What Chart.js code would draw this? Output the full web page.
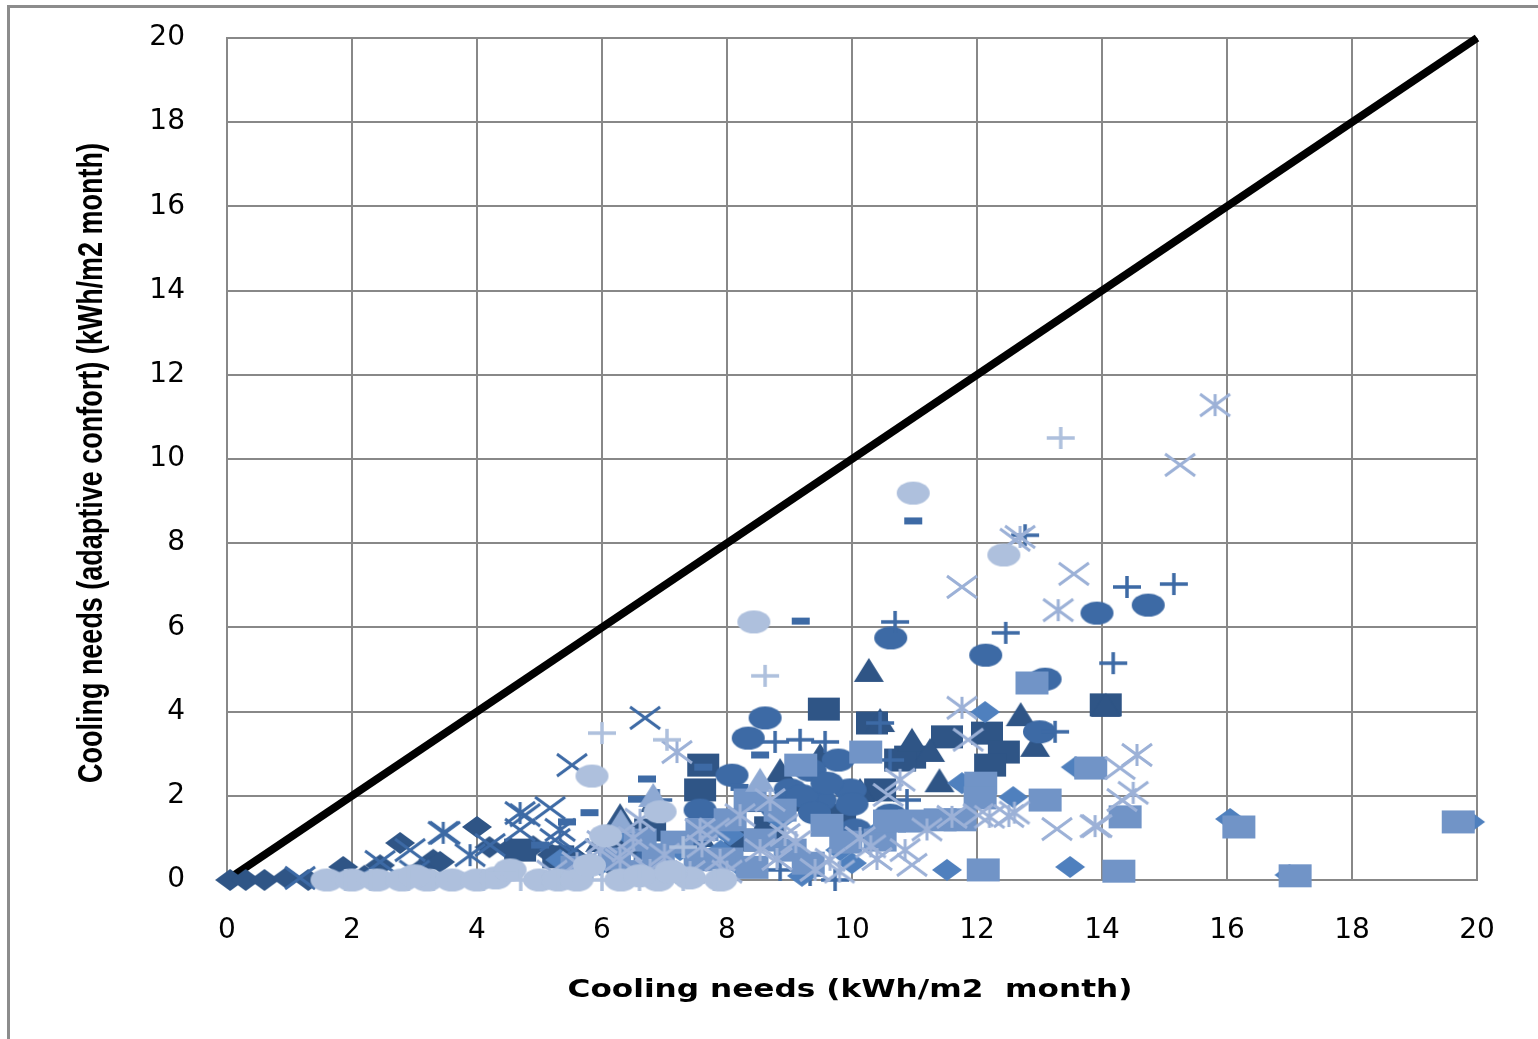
<!DOCTYPE html>
<html>
<head>
<meta charset="utf-8">
<script src="https://cdn.jsdelivr.net/npm/chart.js@4/dist/chart.umd.min.js"></script>
<style>
html,body{margin:0;padding:0;background:#fff;overflow:hidden;}
#wrap{position:relative;width:1538px;height:1039px;}
#frame{position:absolute;left:7px;top:5px;width:1600px;height:1100px;border-left:3px solid #8c8c8c;border-top:3px solid #8c8c8c;}
canvas{position:absolute;left:0;top:0;}
</style>
</head>
<body>
<div id="wrap"><div id="frame"></div><canvas id="c" width="1538" height="1039"></canvas></div>
<script>
// ---- Axis ticks / titles ----
const tickValues = [0,2,4,6,8,10,12,14,16,18,20];
const xTitle = "Cooling needs (kWh/m2  month)";
const yTitle = "Cooling needs (adaptive confort) (kWh/m2 month)";
const diagX = [0, 20];
const diagY = [0, 20];

// ---- Series values (x = cooling needs, y = adaptive comfort cooling needs) ----
const darkDiamondX = [0.05,0.3,0.6,0.95,1.3,1.86,2.45,2.77,3.3,3.41,4.0,4.2,4.53,4.9,5.2,5.6,6.1,6.6,7.2,3.1,2.2];
const darkDiamondY = [0,0,0,0.05,0,0.31,0.35,0.88,0.48,0.43,1.26,0.78,0.76,0.8,0.6,0.5,0.4,0.75,0.9,0.25,0.1];

const darkSquareX = [7.62,9.55,10.32,10.93,11.52,12.16,12.43,14.06,12.21,9.36,9.81,8.21,8.69,7.57,4.69,6.77,10.45,10.77,5.3,6.2];
const darkSquareY = [2.73,4.06,3.73,2.92,3.40,3.49,3.04,4.16,2.73,1.90,1.54,0.95,1.24,2.14,0.71,1.19,2.14,2.85,0.55,0.9];

const darkTriangleX = [10.27,10.45,10.96,11.25,12.7,12.93,14.06,11.4,10.13,9.49,8.85,6.29,6.85,5.97,5.33,8.53,7.57];
const darkTriangleY = [4.99,3.8,3.33,3.09,3.94,3.21,4.16,2.37,2.14,2.97,2.61,1.54,1.9,0.95,0.59,1.9,1.07];

const medXX = [6.69,5.52,4.77,5.17,3.49,2.93,2.45,1.17,4.21,4.69,5.25,5.55,3.0];
const medXY = [3.85,2.73,1.54,1.71,1.12,0.71,0.43,0.05,0.83,1.19,0.95,0.71,0.2];

const medStarX = [3.46,4.69,3.89,5.33];
const medStarY = [1.12,1.59,0.59,1.19];

const medCircleX = [13.92,14.74,10.62,12.14,13.09,8.61,8.34,13.0,8.08,9.78,9.01,9.49,9.97,9.33,10.05,10.61,7.57,7.41,6.77,9.2,9.6,9.4,10.0,8.8,7.9];
const medCircleY = [6.34,6.53,5.75,5.34,4.77,3.85,3.37,3.52,2.49,2.85,2.14,1.9,2.14,2.61,1.19,1.54,1.66,0.83,0.48,2.0,2.3,1.6,1.8,1.7,1.3];

const medPlusX = [12.77,14.4,15.15,10.69,12.46,14.18,10.45,13.25,9.17,9.57,8.77,10.88,10.61,8.85,9.33,9.73,6.9];
const medPlusY = [8.19,6.96,7.03,6.13,5.87,5.15,3.73,3.52,3.33,3.28,3.28,1.9,2.85,0.24,0.12,0.0,1.9];

const medDashX = [10.98,9.18,8.53,6.72,5.44,5.01,6.56,7.62,8.2,5.8];
const medDashY = [8.53,6.15,2.97,2.4,1.38,0.83,1.92,2.68,2.2,1.6];

const lightDiamondX = [12.13,13.58,11.76,12.58,16.05,19.89,17.0,13.49,11.52,10.45,8.05,7.25,5.33,5.97,8.21,9.81,8.85,6.4,7.9,9.2,10.0,6.8];
const lightDiamondY = [3.99,2.68,2.3,1.97,1.45,1.38,0.12,0.31,0.24,1.19,1.07,0.71,0.48,0.36,0.33,0.71,1.43,1.1,0.7,0.1,0.4,0.2];

const lightSquareX = [12.88,9.18,10.22,13.82,12.06,12.05,13.09,14.37,16.19,19.7,17.09,14.27,12.1,6.61,8.37,8.85,8.05,8.53,9.01,10.45,11.41,11.73,7.57,6.2,9.6,6.9,7.2,7.6,8.0,8.4,9.3,9.9,5.6,6.5,10.6,11.0];
const lightSquareY = [4.68,2.73,3.04,2.66,2.3,1.95,1.9,1.5,1.26,1.38,0.1,0.21,0.24,0.95,1.9,1.66,1.43,0.95,0.71,0.95,1.43,1.43,0.48,0.5,1.3,0.6,0.9,1.2,0.5,0.3,0.4,0.9,0.3,0.2,1.4,1.4];

const lightTriangleX = [6.82,8.53,6.3];
const lightTriangleY = [2.02,2.38,1.4];

const lightXX = [15.25,11.76,13.55,12.61,11.86,14.29,14.32,13.92,13.28,12.02,10.96,10.58,8.9,7.8,6.4,5.2];
const lightXY = [9.86,6.96,7.27,8.08,3.33,2.66,1.9,1.28,1.21,1.54,0.36,2.02,1.3,1.2,0.7,0.2];

const lightStarX = [15.81,12.69,13.3,11.76,7.2,14.56,14.5,13.89,12.51,10.77,10.13,10.85,9.65,8.53,7.89,7.41,6.77,6.29,5.97,8.93,9.41,7.57,8.21,8.69,6.61,10.4,11.2,5.6,6.0,6.5,7.0,7.6,8.0,8.8,9.1,9.8,10.3,11.6,12.2,12.6];
const lightStarY = [11.28,8.15,6.41,4.09,3.04,2.97,2.07,1.28,1.52,2.38,1.0,0.71,0.48,0.71,0.48,0.19,0.24,0.48,0.71,1.07,0.24,1.19,1.54,1.9,1.43,0.5,1.2,0.4,0.9,1.0,0.6,0.8,0.2,0.5,0.9,0.2,0.8,1.5,1.5,1.6];

const lightCircleX = [10.98,12.43,8.43,5.84,6.93,6.06,1.6,2.0,2.4,2.8,3.2,3.6,4.0,4.3,4.53,5.0,5.3,5.6,6.3,6.9,7.4,7.9,3.0,5.8,6.6,7.1];
const lightCircleY = [9.19,7.72,6.13,2.47,1.62,1.05,0,0,0,0,0,0,0,0.05,0.24,0,0,0,0,0,0.05,0,0.1,0.35,0.1,0.2];

const lightPlusX = [13.34,8.61,6.0,7.04,7.3,1.9,2.3,2.9,3.3,4.1,4.7,5.3,6.0,6.6,7.3,7.8,4.4];
const lightPlusY = [10.5,4.85,3.49,3.33,0.78,0,0,0,0,0,0,0,0,0,0,0,0.15];

// ---- marker images ----
function marker(type, color, w, h, lw){
  const c = document.createElement('canvas');
  c.width = w + 6; c.height = h + 6;
  const g = c.getContext('2d');
  g.translate(c.width/2, c.height/2);
  g.fillStyle = color; g.strokeStyle = color; g.lineWidth = lw || 3; g.lineCap='butt';
  const hw = w/2, hh = h/2;
  if (type==='diamond'){ g.beginPath(); g.moveTo(0,-hh); g.lineTo(hw,0); g.lineTo(0,hh); g.lineTo(-hw,0); g.closePath(); g.fill(); }
  else if (type==='square'){ g.fillRect(-hw,-hh,w,h); }
  else if (type==='triangle'){ g.beginPath(); g.moveTo(0,-hh); g.lineTo(hw,hh); g.lineTo(-hw,hh); g.closePath(); g.fill(); }
  else if (type==='circle'){ g.beginPath(); g.ellipse(0,0,hw,hh,0,0,Math.PI*2); g.fill(); }
  else if (type==='x'){ g.beginPath(); g.moveTo(-hw,-hh); g.lineTo(hw,hh); g.moveTo(hw,-hh); g.lineTo(-hw,hh); g.stroke(); }
  else if (type==='star'){ g.beginPath(); g.moveTo(-hw,-hh); g.lineTo(hw,hh); g.moveTo(hw,-hh); g.lineTo(-hw,hh); g.moveTo(0,-hh); g.lineTo(0,hh); g.stroke(); }
  else if (type==='plus'){ g.beginPath(); g.moveTo(-hw,0); g.lineTo(hw,0); g.moveTo(0,-hh); g.lineTo(0,hh); g.stroke(); }
  else if (type==='dash'){ g.fillRect(-hw,-hh,w,h); }
  return c;
}
const DARK='#2F5586', MED='#3D6AA5', LDIA='#4F80BE', LSQ='#7194C7', LX='#9CB1D7', LC='#AEC0DD', LTRI='#8EA9D3';

const seriesDefs = [
  [darkDiamondX, darkDiamondY, marker('diamond',DARK,30,22)],
  [darkSquareX, darkSquareY, marker('square',DARK,32,23)],
  [darkTriangleX, darkTriangleY, marker('triangle',DARK,30,24)],
  [medXX, medXY, marker('x',MED,30,22,3)],
  [medStarX, medStarY, marker('star',MED,30,22,3)],
  [medCircleX, medCircleY, marker('circle',MED,33,23)],
  [medPlusX, medPlusY, marker('plus',MED,28,22,3.5)],
  [medDashX, medDashY, marker('dash',MED,18,7)],
  [lightDiamondX, lightDiamondY, marker('diamond',LDIA,30,22)],
  [lightSquareX, lightSquareY, marker('square',LSQ,33,23)],
  [lightTriangleX, lightTriangleY, marker('triangle',LTRI,30,24)],
  [lightXX, lightXY, marker('x',LX,30,22,3)],
  [lightStarX, lightStarY, marker('star',LX,30,22,3)],
  [lightCircleX, lightCircleY, marker('circle',LC,33,23)],
  [lightPlusX, lightPlusY, marker('plus',LC,28,22,3.5)]
];

const datasets = seriesDefs.map((s,i)=>({
  type:'scatter',
  data: s[0].map((x,k)=>({x:x, y:s[1][k]})),
  pointStyle: s[2],
  pointRadius: 12,
  pointHoverRadius: 12,
  order: seriesDefs.length - i,
  clip: false
}));
datasets.push({
  type:'line',
  data: diagX.map((x,k)=>({x:x,y:diagY[k]})),
  borderColor:'#000',
  borderWidth:8,
  pointRadius:0,
  order: 100,
  clip:false
});

const titlePlugin = {
  id:'titles',
  afterDraw(chart){
    const ctx = chart.ctx;
    ctx.save();
    ctx.fillStyle = '#000';
    ctx.textAlign='center'; ctx.textBaseline='middle';
    ctx.font = 'bold 25px "DejaVu Sans"';
    let w = ctx.measureText(xTitle).width;
    ctx.translate(850, 990);
    ctx.scale(565/w, 1);
    ctx.fillText(xTitle, 0, 0);
    ctx.restore();
    ctx.save();
    ctx.fillStyle = '#000';
    ctx.textAlign='center'; ctx.textBaseline='middle';
    ctx.font = 'bold 35px "Liberation Sans"';
    w = ctx.measureText(yTitle).width;
    ctx.translate(92, 463);
    ctx.rotate(-Math.PI/2);
    ctx.scale(640/w, 1);
    ctx.fillText(yTitle, 0, 0);
    ctx.restore();
  }
};

const tickFont = {family:'"DejaVu Sans"', size:28};
new Chart(document.getElementById('c'), {
  type:'scatter',
  data:{datasets},
  options:{
    responsive:false,
    animation:false,
    events:[],
    layout:{padding:{left:0, top:38, right:61, bottom:0}},
    plugins:{legend:{display:false}, tooltip:{enabled:false}},
    scales:{
      x:{
        type:'linear', min:0, max:20,
        afterBuildTicks(s){ s.ticks = tickValues.map(v=>({value:v})); },
        afterFit(s){ s.height = 159; s.paddingLeft = 0; s.paddingRight = 0; },
        grid:{color:'#888', lineWidth:2, drawTicks:false},
        border:{color:'#888', width:2},
        ticks:{color:'#000', font:tickFont, padding:34, maxRotation:0, autoSkip:false}
      },
      y:{
        type:'linear', min:0, max:20,
        afterBuildTicks(s){ s.ticks = tickValues.map(v=>({value:v})); },
        afterFit(s){ s.width = 227; s.paddingTop = 0; s.paddingBottom = 0; },
        grid:{color:'#888', lineWidth:2, drawTicks:false},
        border:{color:'#888', width:2},
        ticks:{color:'#000', font:tickFont, padding:42, autoSkip:false}
      }
    }
  },
  plugins:[titlePlugin]
});
</script>
</body>
</html>
